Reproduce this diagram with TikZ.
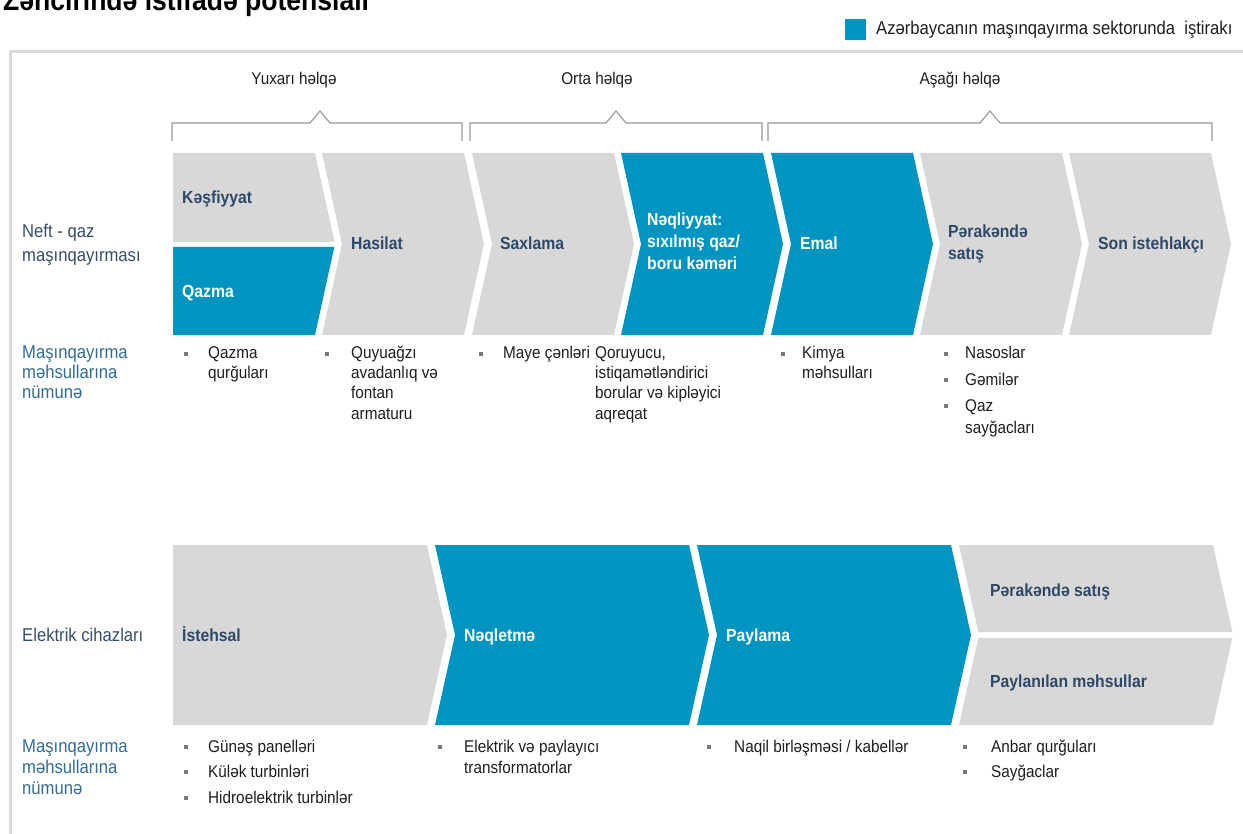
\documentclass[tikz,border=0pt]{standalone}
\usepackage{fontspec}
\setmainfont[FakeStretch=0.9]{Liberation Sans}
\definecolor{azblue}{RGB}{0,148,193}
\definecolor{chgray}{RGB}{216,216,216}
\definecolor{framegray}{RGB}{217,217,217}
\definecolor{brkgray}{RGB}{150,150,150}
\definecolor{navy}{RGB}{46,72,104}
\definecolor{rowlab}{RGB}{55,78,102}
\definecolor{exlab}{RGB}{50,108,150}
\definecolor{bodytxt}{RGB}{30,30,30}
\definecolor{bulgray}{RGB}{120,120,120}
\begin{document}
\begin{tikzpicture}[x=1pt,y=-1pt,
  body/.style={font=\fontsize{17}{20}\selectfont, text=bodytxt, inner sep=0pt, anchor=base west},
  hdr/.style={font=\fontsize{17}{20}\selectfont, text=bodytxt, inner sep=0pt},
  lab/.style={font=\bfseries\fontsize{17.5}{20}\selectfont, text=navy, inner sep=0pt, anchor=base west},
  wlab/.style={lab, text=white},
  rlab/.style={font=\fontsize{18.5}{20}\selectfont, text=rowlab, inner sep=0pt, anchor=base west},
  xlab/.style={font=\fontsize{18.5}{20}\selectfont, text=exlab, inner sep=0pt, anchor=base west},
  bul/.style={rectangle, fill=bulgray, minimum size=4pt, inner sep=0pt, draw=none},
  cg/.style={fill=chgray},
  cb/.style={fill=azblue},
  framel/.style={draw=framegray, line width=3pt},
  brk/.style={draw=brkgray, line width=1.1pt}
]
\useasboundingbox (0,0) rectangle (1243,834);
\clip (0,0) rectangle (1243,834);

% title (cut off at the top)
\node[font=\bfseries\fontsize{29.5}{32}\selectfont, anchor=base west, inner sep=0pt, text=black] (title) at (3,10.5) {Zəncirində istifadə potensialı};

% legend
\node[rectangle, fill=azblue, minimum width=21pt, minimum height=21pt, inner sep=0pt] (legsq) at (855.5,30) {};
\node[font=\fontsize{18.5}{20}\selectfont, text=bodytxt, inner sep=0pt, anchor=west] (legtxt) at (876,30) {Azərbaycanın maşınqayırma sektorunda\ \ iştirakı};

% frame
\draw[framel] (10,834) -- (10,52) -- (1243,52);

% headers
\node[hdr] (h1) at (294,80) {Yuxarı həlqə};
\node[hdr] (h2) at (597,80) {Orta həlqə};
\node[hdr] (h3) at (960,80) {Aşağı həlqə};

% brackets
\draw[brk] (172,141) -- (172,123) -- (310,123) -- (320,111) -- (330,123) -- (462,123) -- (462,141);
\draw[brk] (470,141) -- (470,123) -- (606,123) -- (616,111) -- (626,123) -- (762,123) -- (762,141);
\draw[brk] (768,141) -- (768,123) -- (980,123) -- (990,111) -- (1000,123) -- (1212,123) -- (1212,141);

% ---------- top chevrons: y 153..335, mid 244 ----------
\fill[cg] (173,153) -- (315,153) -- (334.6,242) -- (173,242) -- cycle;
\fill[cb] (173,247) -- (334.3,247) -- (315,335) -- (173,335) -- cycle;
\fill[cg] (322,153) -- (464,153) -- (484,244) -- (464,335) -- (322,335) -- (342,244) -- cycle;
\fill[cg] (472,153) -- (614,153) -- (634,244) -- (614,335) -- (472,335) -- (492,244) -- cycle;
\fill[cb] (621,153) -- (763,153) -- (783,244) -- (763,335) -- (621,335) -- (641,244) -- cycle;
\fill[cb] (771,153) -- (913,153) -- (933,244) -- (913,335) -- (771,335) -- (791,244) -- cycle;
\fill[cg] (920,153) -- (1062,153) -- (1082,244) -- (1062,335) -- (920,335) -- (940,244) -- cycle;
\fill[cg] (1069,153) -- (1211,153) -- (1231,244) -- (1211,335) -- (1069,335) -- (1089,244) -- cycle;

\node[lab] (kes) at (182,204) {Kəşfiyyat};
\node[wlab] (qaz) at (182,298) {Qazma};
\node[lab] (has) at (351,250) {Hasilat};
\node[lab] (sax) at (500,250) {Saxlama};
\node[wlab] (neq1) at (647,226) {Nəqliyyat:};
\node[wlab] (neq2) at (647,248) {sıxılmış qaz/};
\node[wlab] (neq3) at (647,270) {boru kəməri};
\node[wlab] (ema) at (800,250) {Emal};
\node[lab] (per1) at (948,238) {Pərakəndə};
\node[lab] (per2) at (948,260) {satış};
\node[lab] (son) at (1098,250) {Son istehlakçı};

% row labels top
\node[rlab] (rl1a) at (22,238) {Neft - qaz};
\node[rlab] (rl1b) at (22,262) {maşınqayırması};
\node[xlab] (ex1a) at (22,359) {Maşınqayırma};
\node[xlab] (ex1b) at (22,379) {məhsullarına};
\node[xlab] (ex1c) at (22,399) {nümunə};

% top bullets
\node[bul] (b1) at (186,354) {};
\node[body] (t1a) at (208,359) {Qazma};
\node[body] (t1b) at (208,379) {qurğuları};
\node[bul] (b2) at (327,354) {};
\node[body] (t2a) at (351,359) {Quyuağzı};
\node[body] (t2b) at (351,379) {avadanlıq və};
\node[body] (t2c) at (351,399) {fontan};
\node[body] (t2d) at (351,419) {armaturu};
\node[bul] (b3) at (481,354) {};
\node[body] (t3a) at (503,359) {Maye çənləri};
\node[body] (t4a) at (595,359) {Qoruyucu,};
\node[body] (t4b) at (595,379) {istiqamətləndirici};
\node[body] (t4c) at (595,399) {borular və kipləyici};
\node[body] (t4d) at (595,419) {aqreqat};
\node[bul] (b5) at (783,354) {};
\node[body] (t5a) at (802,359) {Kimya};
\node[body] (t5b) at (802,379) {məhsulları};
\node[bul] (b6) at (946,354) {};
\node[body] (t6a) at (965,359) {Nasoslar};
\node[bul] (b7) at (946,380) {};
\node[body] (t6b) at (965,385) {Gəmilər};
\node[bul] (b8) at (946,406) {};
\node[body] (t6c) at (965,411) {Qaz};
\node[body] (t6d) at (965,433) {sayğacları};

% ---------- bottom chevrons: y 545..725, mid 635 ----------
\fill[cg] (173,545) -- (427,545) -- (447,635) -- (427,725) -- (173,725) -- cycle;
\fill[cb] (435,545) -- (689,545) -- (709,635) -- (689,725) -- (435,725) -- (455,635) -- cycle;
\fill[cb] (697,545) -- (951,545) -- (971,635) -- (951,725) -- (697,725) -- (717,635) -- cycle;
\fill[cg] (959,545) -- (1213,545) -- (1232.3,632) -- (978.3,632) -- cycle;
\fill[cg] (978.3,638) -- (1232.3,638) -- (1213,725) -- (959,725) -- cycle;

\node[lab] (ist) at (182,641) {İstehsal};
\node[wlab] (neqt) at (464,641) {Nəqletmə};
\node[wlab] (pay) at (726,641) {Paylama};
\node[lab] (pers) at (990,596) {Pərakəndə satış};
\node[lab] (paym) at (990,687) {Paylanılan məhsullar};

\node[rlab] (rl2) at (22,641) {Elektrik cihazları};
\node[xlab] (ex2a) at (22,752) {Maşınqayırma};
\node[xlab] (ex2b) at (22,773) {məhsullarına};
\node[xlab] (ex2c) at (22,794) {nümunə};

% bottom bullets
\node[bul] (c1) at (186,747) {};
\node[body] (u1a) at (208,752) {Günəş panelləri};
\node[bul] (c2) at (186,772) {};
\node[body] (u1b) at (208,777) {Külək turbinləri};
\node[bul] (c3) at (186,798) {};
\node[body] (u1c) at (208,803) {Hidroelektrik turbinlər};
\node[bul] (c4) at (440,747) {};
\node[body] (u2a) at (464,752) {Elektrik və paylayıcı};
\node[body] (u2b) at (464,773) {transformatorlar};
\node[bul] (c5) at (709,747) {};
\node[body] (u3a) at (734,752) {Naqil birləşməsi / kabellər};
\node[bul] (c6) at (965,747) {};
\node[body] (u4a) at (991,752) {Anbar qurğuları};
\node[bul] (c7) at (965,772) {};
\node[body] (u4b) at (991,777) {Sayğaclar};
\end{tikzpicture}
\end{document}
